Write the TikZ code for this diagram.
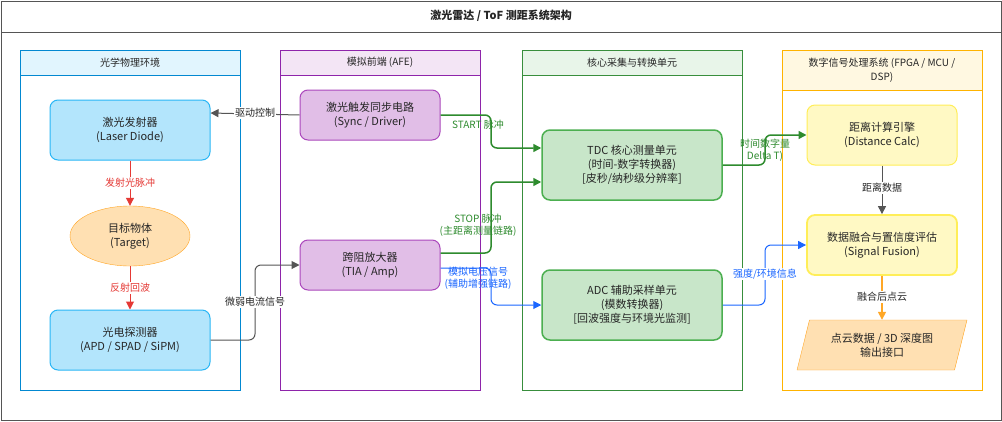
\documentclass[tikz,border=0pt]{standalone}
\usepackage{fontspec}
\setmainfont{Noto Sans CJK SC}
\usetikzlibrary{shapes.geometric,arrows.meta}
\definecolor{laneB}{HTML}{E1F5FE}\definecolor{laneBs}{HTML}{0288D1}
\definecolor{laneP}{HTML}{F3E5F5}\definecolor{lanePs}{HTML}{8E24AA}
\definecolor{laneG}{HTML}{E8F5E9}\definecolor{laneGs}{HTML}{388E3C}
\definecolor{laneY}{HTML}{FFF8E1}\definecolor{laneYs}{HTML}{FFB300}
\definecolor{nB}{HTML}{B3E5FC}\definecolor{nBs}{HTML}{29B6F6}
\definecolor{nO}{HTML}{FFE0B2}\definecolor{nOs}{HTML}{FFA726}
\definecolor{nP}{HTML}{E1BEE7}\definecolor{nPs}{HTML}{AB47BC}
\definecolor{nG}{HTML}{C8E6C9}\definecolor{nGs}{HTML}{4CAF50}
\definecolor{nY}{HTML}{FFF9C4}\definecolor{nYs}{HTML}{FFEE58}
\definecolor{eR}{HTML}{E53935}\definecolor{eG}{HTML}{2E8B2E}
\definecolor{eB}{HTML}{1A66FF}\definecolor{eK}{HTML}{555555}
\tikzset{
 every node/.style={font=\fontsize{11}{14}\selectfont, align=center, text=black!85},
 box/.style={draw, rounded corners=8pt, minimum width=#1, inner sep=0pt},
 nodeB/.style={box=160pt, minimum height=60pt, fill=nB, draw=nBs, line width=1pt},
 nodeP/.style={box=140pt, minimum height=50pt, fill=nP, draw=nPs, line width=1pt},
 nodeG/.style={box=180pt, minimum height=70pt, fill=nG, draw=nGs, line width=1.5pt},
 nodeY/.style={box=150pt, minimum height=60pt, fill=nY, draw=nYs, line width=1pt},
 lbl/.style={font=\fontsize{10}{12}\selectfont, fill=white, inner sep=1pt},
 arr/.style={-{Triangle[length=8pt,width=8pt]}, rounded corners=6pt, line width=#1},
 arr/.default=1pt,
}
\begin{document}
\begin{tikzpicture}[x=1pt,y=-1pt]
\useasboundingbox (0,0) rectangle (1002,421);
\draw[eK, fill=white] (1,1) rectangle (1001,420);
\draw[eK] (1,32) -- (1001,32);
\node[font=\fontsize{11}{13}\selectfont\bfseries] (title) at (501,16) {激光雷达 / ToF 测距系统架构};
% lanes
\foreach \x/\w/\f/\s/\h/\t [count=\i] in {20/220/laneB/laneBs/25/光学物理环境, 280/200/laneP/lanePs/25/模拟前端 (AFE), 522/220/laneG/laneGs/25/核心采集与转换单元, 782/200/laneY/laneYs/40/{数字信号处理系统 (FPGA / MCU /\\ DSP)}}{
 \draw[\s, fill=white] (\x,50) rectangle ++(\w,340);
 \draw[\s, fill=\f] (\x,50) rectangle ++(\w,\h);
 \node[font=\fontsize{10}{14}\selectfont] (lane\i) at (\x+\w/2,50+\h/2) {\t};
}
% nodes
\node[nodeB] (laser) at (130,130) {激光发射器\\(Laser Diode)};
\node[ellipse, draw=nOs, fill=nO, minimum width=120pt, minimum height=60pt, inner sep=0pt] (target) at (130,236) {目标物体\\(Target)};
\node[nodeB] (det) at (130,340) {光电探测器\\(APD / SPAD / SiPM)};
\node[nodeP] (sync) at (370,115) {激光触发同步电路\\(Sync / Driver)};
\node[nodeP] (tia) at (370,265) {跨阻放大器\\(TIA / Amp)};
\node[nodeG] (tdc) at (632,165) {TDC 核心测量单元\\(时间-数字转换器)\\{}[皮秒/纳秒级分辨率]};
\node[nodeG] (adc) at (632,305) {ADC 辅助采样单元\\(模数转换器)\\{}[回波强度与环境光监测]};
\node[nodeY] (dist) at (882,135) {距离计算引擎\\(Distance Calc)};
\node[nodeY, line width=1.8pt] (fus) at (882,245) {数据融合与置信度评估\\(Signal Fusion)};
\node[trapezium, trapezium left angle=70, trapezium right angle=110, draw=nOs, fill=nO, minimum width=170pt, minimum height=50pt, inner sep=0pt, trapezium stretches=true] (out) at (882,345) {点云数据 / 3D 深度图\\输出接口};
% edges
\draw[arr, eK] (sync.west) -- (laser.east|-0,113);
\node[lbl] (l1) at (255,113) {驱动控制};
\draw[arr, eR] (laser) -- (target);
\node[lbl, text=eR] (l2) at (130,183) {发射光脉冲};
\draw[arr, eR] (target) -- (det);
\node[lbl, text=eR] (l3) at (130,288) {反射回波};
\draw[arr, eK] (det.east) -- (255,340) -- (255,265) -- (tia.west);
\node[lbl] (l4) at (255,302) {微弱电流信号};
\draw[arr=1.5pt, eG] (sync.east) -- (491,115) -- (491,148) -- (tdc.west|-0,148);
\node[lbl, text=eG, fill=none] (l5) at (478,125) {START 脉冲};
\draw[arr=1.5pt, eG] (tia.east|-0,253) -- (491,253) -- (491,182) -- (tdc.west|-0,182);
\node[lbl, text=eG, fill=none] (l6) at (478,225) {STOP 脉冲\\(主距离测量链路)};
\draw[arr, eB] (tia.east|-0,268) -- (491,268) -- (491,305) -- (adc.west);
\node[lbl, text=eB, fill=none] (l7) at (478,278) {模拟电压信号\\(辅助增强链路)};
\draw[arr=1.5pt, eG] (tdc.east) -- (765,165) -- (765,135) -- (dist.west);
\node[lbl, text=eG, fill=none] (l8) at (765,150) {时间数字量\\Delta T)};
\draw[arr, eB] (adc.east) -- (765,305) -- (765,245) -- (fus.west);
\node[lbl, text=eB] (l9) at (765,274) {强度/环境信息};
\draw[arr, eK] (dist) -- (fus);
\node[lbl] (l10) at (882,188) {距离数据};
\draw[arr=1.5pt, nOs] (fus) -- (out);
\node[lbl] (l11) at (882,297) {融合后点云};
\end{tikzpicture}
\end{document}
